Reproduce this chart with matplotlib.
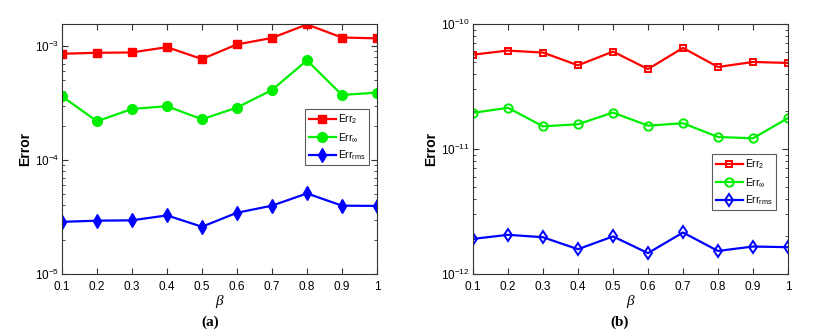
import matplotlib
matplotlib.use("Agg")
import matplotlib.pyplot as plt
from matplotlib.ticker import LogLocator, NullFormatter

plt.rcParams['font.family'] = ['Liberation Sans', 'DejaVu Sans']
plt.rcParams['mathtext.fontset'] = 'custom'
plt.rcParams['mathtext.rm'] = 'Liberation Sans'
plt.rcParams['mathtext.it'] = 'Liberation Serif:italic'

beta = [0.1, 0.2, 0.3, 0.4, 0.5, 0.6, 0.7, 0.8, 0.9, 1.0]
xticklabels = ['0.1', '0.2', '0.3', '0.4', '0.5', '0.6', '0.7', '0.8', '0.9', '1']

a_err2 = [8.57e-4, 8.74e-4, 8.8e-4, 9.8e-4, 7.7e-4, 1.035e-3, 1.18e-3, 1.55e-3, 1.19e-3, 1.17e-3]
a_errinf = [3.63e-4, 2.19e-4, 2.81e-4, 2.97e-4, 2.28e-4, 2.89e-4, 4.12e-4, 7.5e-4, 3.73e-4, 3.91e-4]
a_errrms = [2.87e-5, 2.94e-5, 2.96e-5, 3.27e-5, 2.60e-5, 3.45e-5, 3.98e-5, 5.1e-5, 3.98e-5, 3.96e-5]

b_err2 = [5.70e-11, 6.14e-11, 5.92e-11, 4.68e-11, 6.03e-11, 4.37e-11, 6.45e-11, 4.54e-11, 4.98e-11, 4.89e-11]
b_errinf = [1.95e-11, 2.14e-11, 1.52e-11, 1.58e-11, 1.96e-11, 1.54e-11, 1.61e-11, 1.25e-11, 1.22e-11, 1.77e-11]
b_errrms = [1.91e-12, 2.06e-12, 1.97e-12, 1.58e-12, 2.00e-12, 1.47e-12, 2.15e-12, 1.53e-12, 1.66e-12, 1.64e-12]

labels = [r'Err$_\mathrm{2}$', r'Err$_\infty$', r'Err$_\mathrm{rms}$']

fig = plt.figure(figsize=(8.24, 3.35), dpi=100)
ax1 = fig.add_axes([0.0752, 0.182, 0.3823, 0.746])
ax2 = fig.add_axes([0.574, 0.182, 0.3823, 0.746])


def draw(ax, data, filled, ylim, yticks, legbox):
    specs = [('#ff0000', 's', 6), ('#00ee00', 'o', 7), ('#0000ff', 'd', 7.5)]
    for (c, m, ms), y, lab in zip(specs, data, labels):
        if filled:
            ax.plot(beta, y, color=c, marker=m, ms=ms, mfc=c, mec=c, lw=1.6, label=lab)
        else:
            ax.plot(beta, y, color=c, marker=m, ms=ms - 1, mfc='none', mec=c, mew=1.4, lw=1.6, label=lab)
    ax.set_yscale('log')
    ax.set_xlim(0.1, 1.0)
    ax.set_ylim(*ylim)
    ax.set_xticks(beta)
    ax.set_xticklabels(xticklabels)
    ax.set_yticks(yticks)
    ax.yaxis.set_minor_locator(LogLocator(base=10, subs=range(2, 10), numticks=20))
    ax.yaxis.set_minor_formatter(NullFormatter())
    ax.tick_params(which='both', direction='in', top=True, right=True, color='#333333',
                   labelsize=8.5)
    ax.tick_params(axis='x', pad=5)
    ax.tick_params(axis='y', pad=2)
    ax.tick_params(which='major', length=4)
    ax.tick_params(which='minor', length=2)
    for s in ax.spines.values():
        s.set_color('#333333')
        s.set_linewidth(0.8)
    ax.set_xlabel(r'$\it{\beta}$', fontsize=11, labelpad=0)
    ax.set_ylabel('Error', fontsize=10, fontweight='bold', labelpad=2)
    leg = ax.legend(loc='upper left', bbox_to_anchor=legbox, bbox_transform=fig.transFigure,
                    fontsize=7.5, frameon=True, fancybox=False, edgecolor='#333333',
                    handlelength=2.6, borderpad=0.35, labelspacing=0.45, handletextpad=0.2,
                    borderaxespad=0)
    leg.get_frame().set_linewidth(0.8)


draw(ax1, [a_err2, a_errinf, a_errrms], True, (1e-5, 1.56e-3), [1e-5, 1e-4, 1e-3],
     (305 / 824, 1 - 109 / 335))
draw(ax2, [b_err2, b_errinf, b_errrms], False, (1e-12, 1e-10), [1e-12, 1e-11, 1e-10],
     (712 / 824, 1 - 154 / 335))

fig.text(210 / 824, 1 - 322 / 335, '(a)', fontsize=11, fontweight='bold',
         family='Liberation Serif', ha='center', va='center')
fig.text(620 / 824, 1 - 322 / 335, '(b)', fontsize=11, fontweight='bold',
         family='Liberation Serif', ha='center', va='center')

fig.savefig('out.png', dpi=100)
